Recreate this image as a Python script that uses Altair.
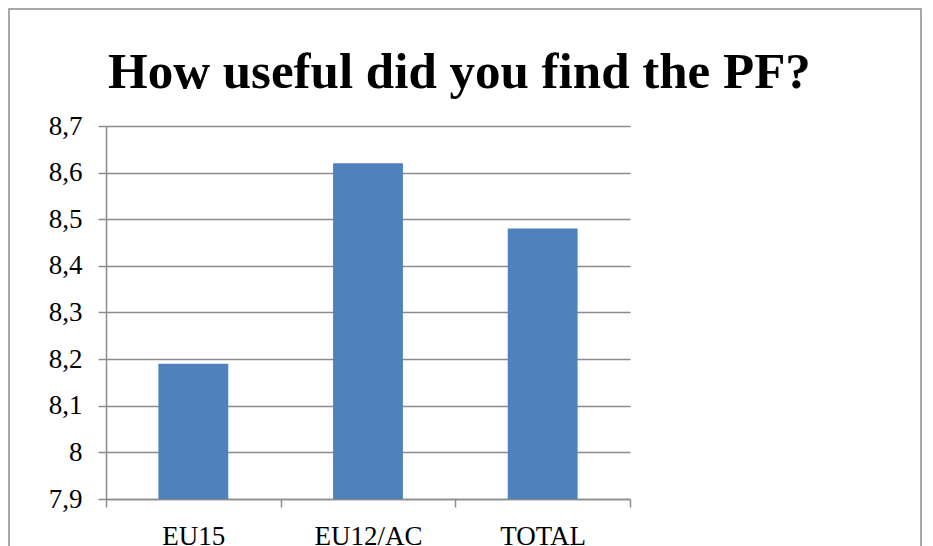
import altair as alt
import pandas as pd

categories = ["EU15", "EU12/AC", "TOTAL"]
values = [8.19, 8.62, 8.48]
y_ticks = [7.9, 8.0, 8.1, 8.2, 8.3, 8.4, 8.5, 8.6, 8.7]
title_text = ["How useful did you find the PF?"]

df = pd.DataFrame({"cat": categories, "val": values})

GRAY = "#8c8c8c"
FONT = "Liberation Serif"

bars = alt.Chart(df).mark_bar(color="#4F81BD", clip=True,
                              width=alt.RelativeBandSize(0.4)).encode(
    x=alt.X("cat:N", sort=categories,
            scale=alt.Scale(paddingInner=0, paddingOuter=0),
            axis=alt.Axis(title=None, labelAngle=0, labelFont=FONT, labelFontSize=27,
                          labelColor="black", domainColor=GRAY, domainWidth=1.5,
                          ticks=True, tickColor=GRAY, tickWidth=1.5, tickSize=8,
                          tickBand="extent", labelPadding=16, grid=False)),
    y=alt.Y("val:Q", scale=alt.Scale(domain=[7.9, 8.7], nice=False, zero=False),
            axis=alt.Axis(title=None, values=y_ticks, labelFont=FONT, labelFontSize=27,
                          labelColor="black",
                          labelExpr="replace(format(datum.value, '~g'), '.', ',')",
                          domainColor=GRAY, domainWidth=1.5, tickColor=GRAY,
                          tickWidth=1.5, tickSize=8, labelPadding=16,
                          grid=True, gridColor=GRAY, gridWidth=1.5)),
)

border = alt.Chart(pd.DataFrame({"k": [0]})).mark_rect(
    filled=False, stroke=GRAY, strokeWidth=1.5
).encode(x=alt.value(-97), x2=alt.value(815), y=alt.value(-117), y2=alt.value(560))

title = alt.Chart(pd.DataFrame({"t": title_text})).mark_text(
    font=FONT, fontSize=51, fontWeight="bold", color="black",
    align="left", baseline="alphabetic"
).encode(text="t:N", x=alt.value(2), y=alt.value(-38))

chart = alt.layer(border, bars, title).properties(
    width=524, height=373,
    autosize=alt.AutoSizeParams(type="none"),
    padding={"left": 98, "top": 118, "right": 295, "bottom": 50},
).configure_view(stroke=None)

chart.save("out.html", embed_options={"renderer": "svg", "actions": False})
